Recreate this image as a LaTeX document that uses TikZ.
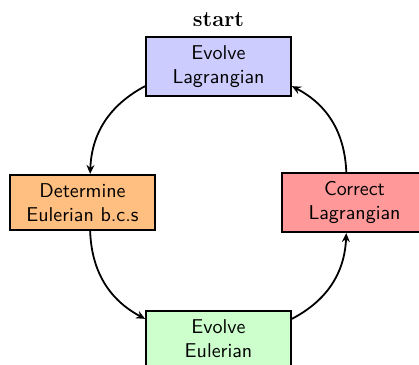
\documentclass[tikz,border=0pt]{standalone}
\usetikzlibrary{arrows.meta}
\definecolor{cTop}{RGB}{204,204,255}
\definecolor{cLeft}{RGB}{255,191,128}
\definecolor{cRight}{RGB}{255,153,153}
\definecolor{cBot}{RGB}{204,255,204}
\tikzset{
  box/.style={draw=black, line width=0.9pt, rectangle, align=center,
    minimum width=72.5pt, inner sep=4.3pt, font=\sffamily\fontsize{10}{12}\selectfont},
  arr/.style={line width=0.9pt, -{Stealth[length=4.5pt,width=4pt,inset=1.5pt]}, bend right=30}
}
\begin{document}
\begin{tikzpicture}[x=0.5pt,y=-0.5pt]
\useasboundingbox (0,0) rectangle (419,365);
\begin{scope}
\clip (0,0) rectangle (419,365);
\node[box, fill=cTop] (top) at (218.5,66.5) {Evolve\\Lagrangian};
\node[box, fill=cLeft] (left) at (82.5,202.5) {Determine\\Eulerian b.c.s};
\node[box, fill=cRight] (right) at (354.5,202.5) {Correct\\Lagrangian};
\node[box, fill=cBot] (bot) at (218.5,338.5) {Evolve\\Eulerian};
\node[anchor=base, inner sep=0pt, font=\fontsize{11}{13}\selectfont\bfseries] (start) at (218.5,26) {start};
\draw[arr] (top) to (left);
\draw[arr] (left) to (bot);
\draw[arr] (bot) to (right);
\draw[arr] (right) to (top);
\end{scope}
\end{tikzpicture}
\end{document}
